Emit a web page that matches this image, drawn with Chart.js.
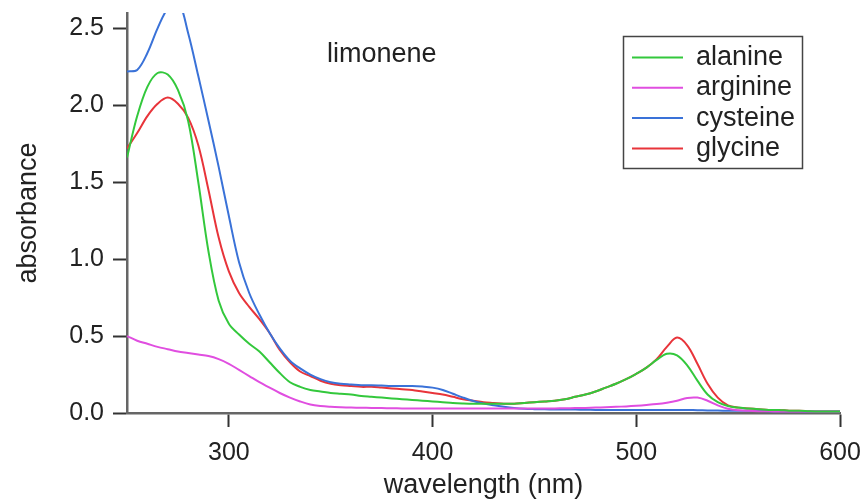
<!DOCTYPE html>
<html lang="en">
<head>
<meta charset="utf-8">
<title>limonene</title>
<script src="https://cdn.jsdelivr.net/npm/chart.js@4/dist/chart.umd.min.js"></script>
<style>
    html, body { margin: 0; padding: 0; background: #fff; }
    #wrap { width: 865px; height: 499px; }
</style>
</head>
<body>
<div id="wrap"><canvas id="spectraChart" width="865" height="499"></canvas></div>
<script>
// ==== DONNÉES ====
const sampleName = 'limonene';

const wavelengths = [
    250, 255, 260, 265, 270, 275, 280, 285, 290, 295,
    300, 305, 310, 315, 320, 325, 330, 335, 340, 345,
    350, 355, 360, 365, 370, 375, 380, 385, 390, 395,
    400, 405, 410, 415, 420, 425, 430, 435, 440, 445,
    450, 455, 460, 465, 470, 475, 480, 485, 490, 495,
    500, 505, 510, 515, 520, 525, 530, 535, 540, 545,
    550, 555, 560, 565, 570, 575, 580, 585, 590, 595,
    600
];

const alanine = [
    1.66, 1.93, 2.12, 2.21, 2.20, 2.10, 1.90, 1.50, 1.05, 0.73,
    0.58, 0.51, 0.45, 0.40, 0.33, 0.26, 0.20, 0.17, 0.15, 0.14,
    0.13, 0.125, 0.12, 0.11, 0.105, 0.10, 0.095, 0.09, 0.085, 0.08,
    0.075, 0.07, 0.065, 0.062, 0.06, 0.06, 0.06, 0.06, 0.06, 0.065,
    0.07, 0.075, 0.08, 0.09, 0.105, 0.12, 0.14, 0.165, 0.19, 0.22,
    0.255, 0.295, 0.345, 0.385, 0.375, 0.31, 0.21, 0.12, 0.07, 0.045,
    0.035, 0.03, 0.025, 0.02, 0.02, 0.015, 0.015, 0.012, 0.01, 0.01,
    0.01
];

const arginine = [
    0.50, 0.47, 0.45, 0.43, 0.415, 0.40, 0.39, 0.38, 0.37, 0.35,
    0.32, 0.28, 0.24, 0.20, 0.165, 0.13, 0.10, 0.075, 0.055, 0.045,
    0.04, 0.037, 0.035, 0.034, 0.033, 0.032, 0.031, 0.03, 0.03, 0.03,
    0.03, 0.03, 0.03, 0.03, 0.03, 0.03, 0.03, 0.03, 0.03, 0.03,
    0.03, 0.03, 0.03, 0.031, 0.032, 0.033, 0.035, 0.037, 0.04, 0.043,
    0.047, 0.052, 0.058, 0.067, 0.08, 0.098, 0.10, 0.08, 0.05, 0.028,
    0.018, 0.014, 0.012, 0.011, 0.01, 0.01, 0.01, 0.01, 0.01, 0.01,
    0.01
];

const cysteine = [
    2.22, 2.23, 2.34, 2.50, 2.63, 2.68, 2.47, 2.19, 1.90, 1.60,
    1.28, 0.98, 0.78, 0.64, 0.52, 0.42, 0.34, 0.29, 0.25, 0.22,
    0.20, 0.19, 0.185, 0.18, 0.18, 0.178, 0.176, 0.176, 0.176, 0.172,
    0.165, 0.15, 0.125, 0.10, 0.078, 0.062, 0.05, 0.04, 0.032, 0.027,
    0.025, 0.024, 0.023, 0.022, 0.022, 0.021, 0.02, 0.02, 0.02, 0.02,
    0.02, 0.02, 0.02, 0.02, 0.02, 0.02, 0.018, 0.017, 0.016, 0.015,
    0.015, 0.014, 0.013, 0.012, 0.012, 0.011, 0.011, 0.01, 0.01, 0.01,
    0.01
];

const glycine = [
    1.72, 1.82, 1.93, 2.01, 2.05, 2.01, 1.92, 1.74, 1.45, 1.14,
    0.92, 0.78, 0.69, 0.61, 0.52, 0.41, 0.33, 0.27, 0.24, 0.21,
    0.19, 0.18, 0.175, 0.17, 0.17, 0.165, 0.16, 0.155, 0.15, 0.14,
    0.13, 0.12, 0.105, 0.09, 0.08, 0.07, 0.065, 0.06, 0.06, 0.065,
    0.07, 0.075, 0.08, 0.09, 0.105, 0.12, 0.14, 0.165, 0.19, 0.22,
    0.255, 0.295, 0.35, 0.43, 0.49, 0.44, 0.32, 0.19, 0.10, 0.05,
    0.035, 0.03, 0.025, 0.02, 0.02, 0.015, 0.015, 0.012, 0.01, 0.01,
    0.01
];

const xTicks = [300, 400, 500, 600];
const yTicks = [0, 0.5, 1.0, 1.5, 2.0, 2.5];

// ==== STYLE ====
const FONT = '"Liberation Sans", Arial, Helvetica, sans-serif';
const TEXT_COLOR = '#222';

function toPoints(values) {
    return wavelengths.map((w, i) => ({ x: w, y: values[i] }));
}

function makeSeries(label, values, color) {
    return {
        label: label,
        data: toPoints(values),
        borderColor: color,
        backgroundColor: color,
        borderWidth: 2,
        pointRadius: 0,
        tension: 0.35,
        fill: false
    };
}

// Légende encadrée + nom de l'échantillon, dessinés dans la zone du graphique
const boxLegend = {
    id: 'boxLegend',
    afterDraw(chart) {
        const ctx = chart.ctx;
        ctx.save();
        ctx.font = '27px ' + FONT;
        ctx.fillStyle = TEXT_COLOR;
        ctx.textBaseline = 'middle';
        ctx.textAlign = 'left';
        ctx.fillText(sampleName, 327, 55);

        ctx.strokeStyle = '#444';
        ctx.lineWidth = 1.5;
        ctx.strokeRect(623.5, 36.5, 179, 132);

        chart.data.datasets.forEach((ds, i) => {
            const y = 57.5 + i * 30.3;
            ctx.strokeStyle = ds.borderColor;
            ctx.lineWidth = 2;
            ctx.beginPath();
            ctx.moveTo(632, y);
            ctx.lineTo(683, y);
            ctx.stroke();
            ctx.fillStyle = TEXT_COLOR;
            ctx.fillText(ds.label, 696, y);
        });
        ctx.restore();
    }
};

// ==== GRAPHIQUE ====
const ctx = document.getElementById('spectraChart');
new Chart(ctx, {
    type: 'line',
    data: {
        datasets: [
            makeSeries('alanine', alanine, '#33c83c'),
            makeSeries('arginine', arginine, '#e04ee0'),
            makeSeries('cysteine', cysteine, '#3a72d8'),
            makeSeries('glycine', glycine, '#e8343a')
        ]
    },
    options: {
        responsive: false,
        animation: false,
        devicePixelRatio: 1,
        layout: { padding: { top: 13, right: 25, bottom: 0, left: 0 } },
        plugins: {
            legend: { display: false },
            tooltip: { enabled: false }
        },
        scales: {
            x: {
                type: 'linear',
                min: 250,
                max: 600,
                afterBuildTicks: s => { s.ticks = xTicks.map(v => ({ value: v })); },
                afterFit: s => {
                    s.height = 86;
                    s.paddingLeft = 0;
                    s.paddingRight = 0;
                },
                grid: {
                    display: true,
                    drawOnChartArea: false,
                    drawTicks: true,
                    tickLength: 14,
                    tickWidth: 2,
                    tickColor: '#333'
                },
                border: { display: true, color: '#666', width: 2.5 },
                ticks: {
                    autoSkip: false,
                    maxRotation: 0,
                    padding: 11,
                    color: TEXT_COLOR,
                    font: { family: FONT, size: 25 },
                    callback: v => String(v)
                },
                title: {
                    display: true,
                    text: 'wavelength (nm)',
                    color: TEXT_COLOR,
                    padding: 0,
                    font: { family: FONT, size: 27, lineHeight: 1 }
                }
            },
            y: {
                type: 'linear',
                min: 0,
                max: 2.6,
                afterBuildTicks: s => { s.ticks = yTicks.map(v => ({ value: v })); },
                afterFit: s => {
                    s.width = 127;
                    s.paddingTop = 0;
                    s.paddingBottom = 0;
                },
                grid: {
                    display: true,
                    drawOnChartArea: false,
                    drawTicks: true,
                    tickLength: 14,
                    tickWidth: 2,
                    tickColor: '#333'
                },
                border: { display: true, color: '#666', width: 2.5 },
                ticks: {
                    autoSkip: false,
                    padding: 9,
                    color: TEXT_COLOR,
                    font: { family: FONT, size: 25 },
                    callback: v => Number(v).toFixed(1)
                },
                title: {
                    display: true,
                    text: 'absorbance',
                    color: TEXT_COLOR,
                    padding: { top: 15, bottom: 0 },
                    font: { family: FONT, size: 27, lineHeight: 1 }
                }
            }
        }
    },
    plugins: [boxLegend]
});
</script>
</body>
</html>
